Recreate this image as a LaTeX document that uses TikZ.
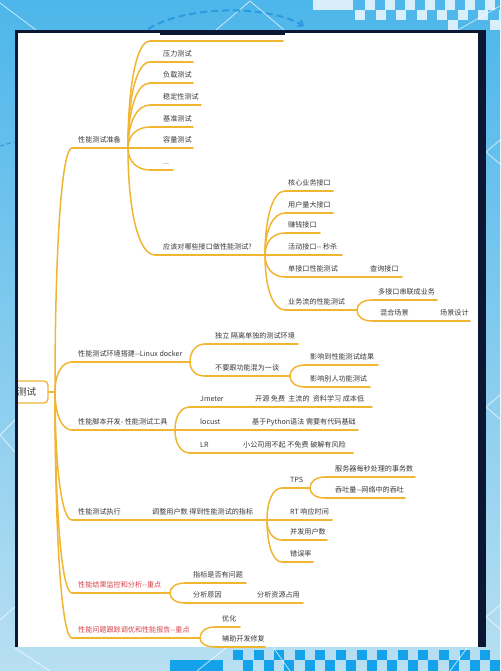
\documentclass[tikz,border=0pt]{standalone}
\usepackage{fontspec}
\newfontfamily\cjk{Noto Sans CJK SC}
\usetikzlibrary{calc,arrows.meta}
\definecolor{mmline}{HTML}{F0B632}
\definecolor{txtgray}{HTML}{383838}
\definecolor{txtred}{HTML}{D8404A}
\definecolor{navy}{HTML}{0C1733}
\definecolor{bgtop}{HTML}{4DB6EA}
\definecolor{bgbot}{HTML}{B8DFF2}
\definecolor{checklight}{HTML}{D8EFFB}
\definecolor{checkblue}{HTML}{14A3EA}
\definecolor{arcblue}{HTML}{2A9BE0}
% #1 style, #2 name, #3 line start x, #4 text x, #5 line end x, #6 line y, #7 text
\newcommand\mmitem[7]{%
  \coordinate (#2s) at (#3,#6);
  \coordinate (#2e) at (#5,#6);
  \draw[uline] (#2s) -- (#2e);
  \node[lbl,#1,anchor=base west] (#2) at (#4,#6-5.5) {#7};
}
\begin{document}
\begin{tikzpicture}[x=1pt,y=-1pt,
  conn/.style={draw=mmline,line width=1.5pt,line cap=round},
  uline/.style={draw=mmline,line width=1.5pt,line cap=round},
  lbl/.style={font=\cjk\fontsize{7.1}{8}\selectfont,text=txtgray,inner sep=0pt},
  redlbl/.style={text=txtred},
  mm/.style={to path={.. controls ($(\tikztostart)!0.6!(\tikztostart|-\tikztotarget)$)
      and ($(\tikztotarget)!0.6!(\tikztostart|-\tikztotarget)$) .. (\tikztotarget)}},
  deco/.style={draw=white,line width=0.8pt,opacity=0.7},
  rootbox/.style={draw=mmline,fill=white,line width=1.3pt,rounded corners=4pt,
    minimum width=43pt,minimum height=22pt,inner sep=0pt,
    font=\cjk\fontsize{9.5}{9.5}\selectfont,text=txtgray}
]
\useasboundingbox (0,0) rectangle (500,671);
% background
\fill[top color=bgtop,bottom color=bgbot] (0,0) rectangle (500,671);
% top-right checkerboard
\fill[checklight] (313,0) rectangle (353,10);
\foreach \k in {0,...,6} {\fill[checklight] (365+20*\k,0) rectangle (375+20*\k,10);}
\foreach \k in {0,...,7} {\fill[checklight] (355+20.5*\k,10) rectangle (365+20.5*\k,20);}
\fill[checklight] (448,20) rectangle (458,30);
\fill[checklight] (490,20) rectangle (500,30);
% bottom checkerboard
\fill[checkblue] (170,660) rectangle (223,671);
\foreach \k in {0,...,12} {\fill[checkblue] (233+20.6*\k,650) rectangle (243+20.6*\k,660);}
\foreach \k in {0,...,12} {\fill[checkblue] (243+20.6*\k,660) rectangle (253+20.6*\k,671);}
% decorative light lines
\draw[deco] (0,3) -- (36,30);
\draw[deco] (216,30) -- (250,1) -- (284,30);
\draw[deco] (458,30) -- (500,6);
\draw[deco] (500,140) -- (486,152) -- (500,164);
\draw[deco] (500,395) -- (486,407) -- (500,419);
\draw[deco] (500,605) -- (486,617) -- (500,629);
\draw[deco] (15,420) -- (0,435) -- (15,452);
\draw[deco] (0,620) -- (16,606);
\draw[deco] (15,648) -- (50,671);
\draw[deco] (197,671) -- (227,647);
\draw[deco] (273,647) -- (290,671);
\draw[deco] (450,671) -- (467,648);
\draw[arcblue,line width=1.2pt,dash pattern=on 4pt off 3pt] (0,146) -- (14,142);
% dashed arc
\draw[arcblue,line width=2pt,dash pattern=on 7pt off 4pt,-{Straight Barb[length=4pt,width=7pt]}]
  (148,29) .. controls (185,6) and (265,4) .. (304,26);
% panel
\fill[white] (16,31) rectangle (480,647);

% ---------- mind map ----------
\coordinate (trunk) at (55,392);
% level 1
\mmitem{}{A}{72}{78}{128}{148}{性能测试准备}
\mmitem{}{B}{72}{78}{190}{362}{性能测试环境搭建--Linux docker}
\mmitem{}{C}{72}{78}{175}{430}{性能脚本开发- 性能测试工具}
\mmitem{}{D}{72}{78}{140}{520}{性能测试执行}
\mmitem{redlbl}{E}{72}{78}{170}{593}{性能结果监控和分析--重点}
\mmitem{redlbl}{F}{72}{78}{200}{638}{性能问题跟踪调优和性能报告--重点}
\foreach \n in {A,B,C,D,E,F} {\draw[conn] (trunk) to[mm] (\n s);}

% under A
\coordinate (A0s) at (150,41);
\coordinate (A0e) at (283,41);
\draw[uline] (A0s) -- (A0e);
\mmitem{}{A1}{150}{163}{193}{62}{压力测试}
\mmitem{}{A2}{150}{163}{193}{83}{负载测试}
\mmitem{}{A3}{150}{163}{201}{105}{稳定性测试}
\mmitem{}{A4}{150}{163}{193}{127}{基准测试}
\mmitem{}{A5}{150}{163}{193}{148}{容量测试}
\mmitem{}{A6}{150}{163}{173}{170}{...}
\mmitem{}{A7}{155}{163}{265}{255}{应该对哪些接口做性能测试?}
\foreach \n in {A0,A1,A2,A3,A4,A5,A6,A7} {\draw[conn] (Ae) to[mm] (\n s);}

% under A7
\mmitem{}{G1}{285}{288}{333}{191}{核心业务接口}
\mmitem{}{G2}{285}{288}{333}{213}{用户量大接口}
\mmitem{}{G3}{285}{288}{320}{233}{赚钱接口}
\mmitem{}{G4}{285}{288}{342}{255}{活动接口-- 秒杀}
\mmitem{}{G5}{285}{288}{350}{277}{单接口性能测试}
\mmitem{}{G6}{285}{288}{357}{310}{业务流的性能测试}
\foreach \n in {G1,G2,G3,G4,G5,G6} {\draw[conn] (A7e) to[mm] (\n s);}
\mmitem{}{G51}{358}{370}{402}{277}{查询接口}
\draw[conn] (G5e) -- (G51s);
\mmitem{}{G61}{372}{378}{437}{300}{多接口串联成业务}
\mmitem{}{G62}{372}{380}{428}{321}{混合场景}
\foreach \n in {G61,G62} {\draw[conn] (G6e) to[mm] (\n s);}
\mmitem{}{G621}{434}{440}{470}{321}{场景设计}
\draw[conn] (G62e) -- (G621s);

% under B
\mmitem{}{B1}{205}{215}{298}{344}{独立 隔离单独的测试环境}
\mmitem{}{B2}{205}{215}{290}{376}{不要跟功能混为一谈}
\foreach \n in {B1,B2} {\draw[conn] (Be) to[mm] (\n s);}
\mmitem{}{B21}{305}{310}{378}{365}{影响到性能测试结果}
\mmitem{}{B22}{305}{310}{370}{387}{影响别人功能测试}
\foreach \n in {B21,B22} {\draw[conn] (B2e) to[mm] (\n s);}

% under C
\mmitem{}{C1}{190}{200}{245}{407}{Jmeter}
\mmitem{}{C2}{190}{200}{243}{430}{locust}
\mmitem{}{C3}{190}{200}{235}{453}{LR}
\foreach \n in {C1,C2,C3} {\draw[conn] (Ce) to[mm] (\n s);}
\mmitem{}{C11}{250}{255}{372}{407}{开源 免费\ \ 主流的\ \ 资料学习 成本低}
\mmitem{}{C21}{248}{252}{358}{430}{基于Python语法 需要有代码基础}
\mmitem{}{C31}{240}{243}{353}{453}{小公司用不起 不免费 破解有风险}
\draw[conn] (C1e) -- (C11s);
\draw[conn] (C2e) -- (C21s);
\draw[conn] (C3e) -- (C31s);

% under D
\mmitem{}{D1}{145}{152}{267}{520}{调整用户数 得到性能测试的指标}
\draw[conn] (De) -- (D1s);
\mmitem{}{D11}{282}{290}{310}{488}{TPS}
\mmitem{}{D12}{282}{290}{332}{520}{RT 响应时间}
\mmitem{}{D13}{282}{290}{327}{540}{并发用户数}
\mmitem{}{D14}{282}{290}{313}{562}{错误率}
\foreach \n in {D11,D12,D13,D14} {\draw[conn] (D1e) to[mm] (\n s);}
\mmitem{}{D111}{325}{335}{415}{477}{服务器每秒处理的事务数}
\mmitem{}{D112}{325}{335}{405}{498}{吞吐量--网络中的吞吐}
\foreach \n in {D111,D112} {\draw[conn] (D11e) to[mm] (\n s);}

% under E
\mmitem{}{E1}{185}{193}{246}{583}{指标是否有问题}
\mmitem{}{E2}{185}{193}{250}{603}{分析原因}
\foreach \n in {E1,E2} {\draw[conn] (Ee) to[mm] (\n s);}
\mmitem{}{E21}{255}{257}{303}{603}{分析资源占用}
\draw[conn] (E2e) -- (E21s);

% under F
\mmitem{}{F1}{215}{222}{240}{627}{优化}
\mmitem{}{F2}{215}{222}{265}{647}{辅助开发修复}
\foreach \n in {F1,F2} {\draw[conn] (Fe) to[mm] (\n s);}

% root (clipped by the panel edge)
\begin{scope}
  \clip (18,33) rectangle (478,647);
  \node[rootbox] (root) at (26.5,392) {测试};
\end{scope}
\draw[conn] (root.east) -- (trunk);

% panel borders
\fill[navy] (15,30) rectangle (18,647);
\fill[navy] (15,30) rectangle (486,33);
\fill[navy] (478,30) rectangle (486,647);
\fill[navy] (160,30) rectangle (285,35);
\end{tikzpicture}
\end{document}
